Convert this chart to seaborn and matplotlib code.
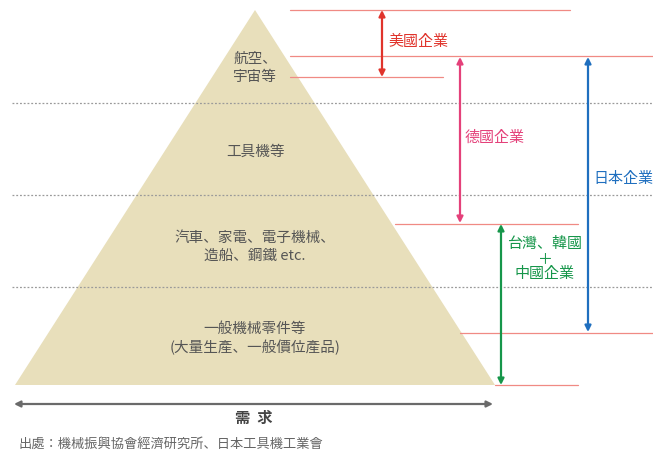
import matplotlib
matplotlib.use("Agg")
import matplotlib.pyplot as plt
import seaborn as sns
import pandas as pd

# ---- data (pixel-like diagram units, y grows downward) ----
tier_labels = ["航空、\n宇宙等", "工具機等", "汽車、家電、電子機械、\n造船、鋼鐵 etc.",
               "一般機械零件等\n(大量生產、一般價位產品)"]
tier_bounds = [10, 103, 195, 287, 385]          # apex ... base
tier_label_y = [68, 152, 247, 339]

companies = ["美國企業", "德國企業", "日本企業", "台灣、韓國\n＋\n中國企業"]
company_top = [10, 57, 57, 224]
company_bottom = [77, 223, 332, 385]
company_x = [382, 460, 588, 501]
company_colors = ["#e0342c", "#e4417a", "#1f6fbf", "#16964a"]
company_label_xy = [(388, 42, "left"), (465, 138, "left"), (593, 179, "left"), (545, 259, "center")]

ref_y = [10, 56, 77, 224, 333, 385]
ref_x0 = [290, 290, 290, 395, 460, 495]
ref_x1 = [570, 653, 443, 578, 653, 578]

apex_x, base_left, base_right = 255, 15, 495

sns.set_theme(style="white")
plt.rcParams['font.family'] = ['Noto Sans CJK JP', 'DejaVu Sans']

fig = plt.figure(figsize=(6.53, 4.55), dpi=100)
ax = fig.add_axes([0, 0, 1, 1])
ax.set_xlim(0, 653)
ax.set_ylim(455, 0)
ax.axis("off")

# pyramid
ax.fill([apex_x, base_right, base_left], [tier_bounds[0], tier_bounds[-1], tier_bounds[-1]],
        color="#e8dfbb", lw=0, zorder=1)

# dotted tier separators
for y in tier_bounds[1:-1]:
    ax.plot([12, 653], [y, y], ls=(0, (1.5, 1.5)), color="#9a9a9a", lw=0.9, zorder=2)

# tier labels
for lab, y in zip(tier_labels, tier_label_y):
    ax.text(apex_x, y, lab, ha="center", va="center", fontsize=10.5, color="#555555",
            linespacing=1.3, zorder=3)

# reference lines
ref = pd.DataFrame({"y": ref_y, "x0": ref_x0, "x1": ref_x1})
for _, r in ref.iterrows():
    ax.plot([r.x0, r.x1], [r.y, r.y], color="#f08a84", lw=0.9, zorder=2)

# company arrows
for name, t, b, x, c, (lx, ly, ha) in zip(companies, company_top, company_bottom,
                                           company_x, company_colors, company_label_xy):
    ax.annotate("", xy=(x, t), xytext=(x, b),
                arrowprops=dict(arrowstyle="<|-|>", color=c, lw=1.6,
                                mutation_scale=9, shrinkA=0, shrinkB=0), zorder=4)
    ax.text(lx, ly, name, ha=ha, va="center", fontsize=10.8, color=c,
            linespacing=1.12, zorder=4)

# demand arrow
ax.annotate("", xy=(14, 404), xytext=(493, 404),
            arrowprops=dict(arrowstyle="<|-|>", color="#6a6a6a", lw=1.6,
                            mutation_scale=9, shrinkA=0, shrinkB=0))
ax.text(254, 418, "需  求", ha="center", va="center", fontsize=11, color="#444444",
        fontweight="bold")
ax.text(18, 444, "出處：機械振興協會經濟研究所、日本工具機工業會", ha="left", va="center",
        fontsize=9.5, color="#666666")

fig.savefig("out.png", dpi=100)
